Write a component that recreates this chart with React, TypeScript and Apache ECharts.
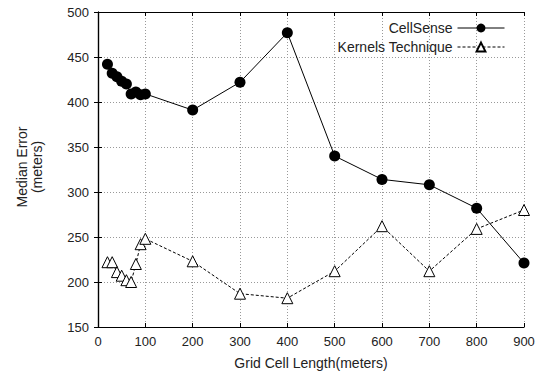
import React, { useEffect, useRef } from "react";
import * as echarts from "echarts";

const cellLengths = [20, 30, 40, 50, 60, 70, 80, 90, 100, 200, 300, 400, 500, 600, 700, 800, 900];
const cellSense = [442, 432, 428, 423, 420, 409, 411, 408, 409, 391, 422, 477, 340, 314, 308, 282, 221];
const kernels = [222, 222, 211, 207, 202, 200, 220, 242, 248, 223, 187, 182, 212, 262, 212, 259, 280];
const yTitleLines = ["Median Error", "(meters)"];

const FONT = "Liberation Sans, Arial, sans-serif";

export default function App() {
  const ref = useRef<HTMLDivElement>(null);
  useEffect(() => {
    const chart = echarts.init(ref.current!, null, { renderer: "svg" });
    const axisCommon = {
      axisLine: { show: true, lineStyle: { color: "#000", width: 1.2 } },
      axisTick: { show: true, inside: true, length: 4, lineStyle: { color: "#000" } },
    };
    chart.setOption({
      animation: false,
      backgroundColor: "#fff",
      grid: { left: 98, right: 21, top: 12, bottom: 50 },
      legend: {
        orient: "vertical",
        right: 35,
        top: 16,
        align: "right",
        itemWidth: 47,
        itemHeight: 11,
        itemGap: 5,
        lineStyle: { width: 1 },
        textStyle: { fontFamily: FONT, fontSize: 14, color: "#222" },
        data: ["CellSense", "Kernels Technique"],
      },
      graphic: yTitleLines.map((t, i) => ({
        type: "text",
        x: 22 + i * 15,
        y: 167,
        rotation: Math.PI / 2,
        style: {
          text: t,
          font: `14px ${FONT}`,
          fill: "#222",
          align: "center",
          verticalAlign: "middle",
        },
      })),
      xAxis: [
        {
          type: "value",
          min: 0,
          max: 900,
          interval: 100,
          ...axisCommon,
          axisLabel: { fontFamily: FONT, fontSize: 13, color: "#222", margin: 8 },
          splitLine: { show: true, lineStyle: { color: "#999", type: [1, 2], width: 1 } },
          name: "Grid Cell Length(meters)",
          nameLocation: "middle",
          nameGap: 29,
          nameTextStyle: { fontFamily: FONT, fontSize: 14, color: "#222" },
        },
        {
          type: "value",
          position: "top",
          min: 0,
          max: 900,
          interval: 100,
          ...axisCommon,
          axisLabel: { show: false },
          splitLine: { show: false },
        },
      ],
      yAxis: [
        {
          type: "value",
          min: 150,
          max: 500,
          interval: 50,
          ...axisCommon,
          axisLabel: { fontFamily: FONT, fontSize: 13, color: "#222", margin: 9 },
          splitLine: { show: true, lineStyle: { color: "#999", type: [1, 2], width: 1 } },
        },
        {
          type: "value",
          position: "right",
          min: 150,
          max: 500,
          interval: 50,
          ...axisCommon,
          axisLabel: { show: false },
          splitLine: { show: false },
        },
      ],
      series: [
        {
          name: "CellSense",
          type: "line",
          data: cellLengths.map((x, i) => [x, cellSense[i]]),
          symbol: "circle",
          symbolSize: 11,
          itemStyle: { color: "#000" },
          lineStyle: { color: "#000", width: 1 },
        },
        {
          name: "Kernels Technique",
          type: "line",
          data: cellLengths.map((x, i) => [x, kernels[i]]),
          symbol: "triangle",
          symbolSize: 11,
          itemStyle: { color: "#fff", borderColor: "#000", borderWidth: 1 },
          lineStyle: { color: "#000", width: 1, type: [3, 2] },
        },
      ],
    });
    return () => chart.dispose();
  }, []);
  return <div ref={ref} style={{ width: 545, height: 377, position: "absolute", left: 0, top: 0 }} />;
}
